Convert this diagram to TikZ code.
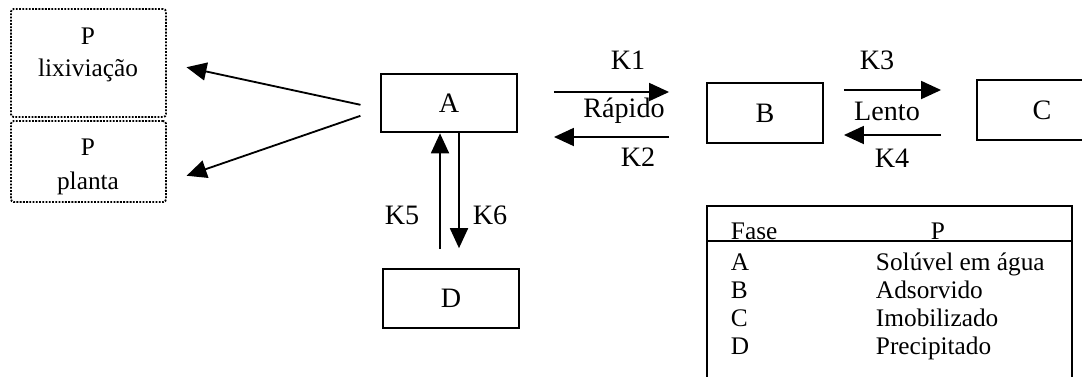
\documentclass[tikz,border=0pt]{standalone}
\usepackage{fontspec}
\setmainfont{Liberation Serif}
\usetikzlibrary{arrows.meta, positioning, calc}

\tikzset{
  caixa/.style={draw, line width=1.3pt, minimum width=3.4cm, minimum height=1.47cm, inner sep=0pt},
  caixapont/.style={draw, densely dotted, line width=1.3pt, rounded corners=2pt, minimum width=3.875cm, inner sep=0pt},
  seta/.style={->, line width=1.3pt},
  menor/.style={font=\fontsize{18}{20}\selectfont},
}

\begin{document}
\begin{tikzpicture}[x=0.025cm, y=-0.025cm, >={Triangle[length=0.5cm, width=0.45cm]}, font=\fontsize{20}{22}\selectfont]
  \useasboundingbox (0,0) rectangle (1082,376);

  % Destinos do P
  \node[caixapont, minimum height=2.7cm] (lix) at (88.5,63) {};
  \node[menor] (lixP) at (88,36) {P};
  \node[menor] (lixT) at (88,70) {lixiviação};
  \node[caixapont, minimum height=2.025cm] (pla) at (88.5,161.5) {};
  \node[menor] (plaP) at (88,147) {P};
  \node[menor] (plaT) at (88,183) {planta};

  % Fases A--D
  \node[caixa] (A) at (449,103) {A};
  \node[caixa, minimum width=2.9cm, minimum height=1.5cm] (B) at (765,113) {B};
  \node[caixa, minimum width=3.25cm, minimum height=1.5cm] (C) at (1042,110) {C};
  \node[caixa] (D) at (451,298.5) {D};

  % Saídas de A
  \draw[seta, shorten <=0.5cm, shorten >=0.5cm] (A.185) -- (lix.east);
  \draw[seta, shorten <=0.52cm, shorten >=0.52cm] (A.185) -- (pla.-15);

  % A <-> B
  \coordinate (r1) at (0,92);
  \coordinate (r2) at (0,137);
  \draw[seta, shorten <=0.9cm, shorten >=0.925cm] (A.east |- r1) -- (B.west |- r1);
  \draw[seta, shorten <=0.925cm, shorten >=0.9cm] (B.west |- r2) -- (A.east |- r2);
  \node (K1) at (628,60) {K1};
  \node (rap) at (624,111) {Rápido};
  \node (K2) at (638,157) {K2};

  % B <-> C
  \coordinate (r3) at (0,90);
  \coordinate (r4) at (0,135);
  \draw[seta, shorten <=0.5cm, shorten >=0.875cm] (B.east |- r3) -- (C.west |- r3);
  \draw[seta, shorten <=0.875cm, shorten >=0.5cm] (C.west |- r4) -- (B.east |- r4);
  \node (K3) at (877,60) {K3};
  \node (len) at (887,111) {Lento};
  \node (K4) at (892,158) {K4};

  % A <-> D
  \coordinate (c5) at (440,0);
  \coordinate (c6) at (459,0);
  \draw[seta, shorten <=0.475cm] (D.north -| c5) -- (A.south -| c5);
  \draw[seta, shorten >=0.5cm] (A.south -| c6) -- (D.north -| c6);
  \node (K5) at (402,215) {K5};
  \node (K6) at (490,215) {K6};

  % Tabela
  \draw[line width=1.3pt] (707,380) -- (707,206) -- (1072,206) -- (1072,380);
  \draw[line width=1.3pt] (707,241) -- (1072,241);
  \node[menor, anchor=base west] (fase) at (726,239) {Fase};
  \node[menor, anchor=base] (tabP) at (938,239) {P};
  \foreach \f/\t [count=\i] in {A/Solúvel em água, B/Adsorvido, C/Imobilizado, D/Precipitado} {
    \node[menor, anchor=base west] (f\f) at (726,242.5+28*\i) {\f};
    \node[menor, anchor=base west] (t\f) at (871,242.5+28*\i) {\t};
  }
\end{tikzpicture}
\end{document}
